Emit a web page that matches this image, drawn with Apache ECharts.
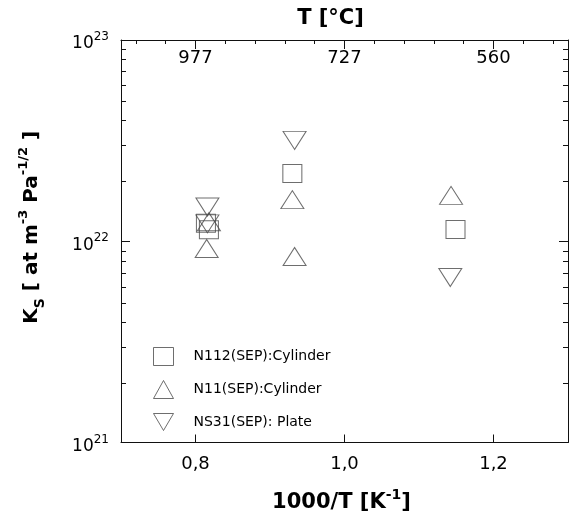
<!DOCTYPE html>
<html>
<head>
<meta charset="utf-8">
<title>Ks vs 1000/T</title>
<script src="https://cdn.jsdelivr.net/npm/echarts@6.0.0/dist/echarts.min.js"></script>
<style>
    html, body { margin: 0; padding: 0; background: #fff; }
    #chart { width: 572px; height: 518px; }
</style>
</head>
<body>
<div id="chart"></div>
<script type="text/javascript">
    // series names (legend order)
    var names = ['N112(SEP):Cylinder', 'N11(SEP):Cylinder', 'NS31(SEP): Plate'];

    // [1000/T (1/K), Ks (at m^-3 Pa^-1/2)]
    var n112 = [[0.814, 1.23e22], [0.818, 1.14e22], [0.930, 2.17e22], [1.149, 1.145e22]];
    var n11 = [[0.818, 1.25e22], [0.815, 9.2e21], [0.930, 1.61e22], [0.933, 8.4e21], [1.143, 1.69e22]];
    var ns31 = [[0.816, 1.48e22], [0.816, 1.22e22], [0.933, 3.17e22], [1.142, 6.6e21]];

    // ticks
    var bottomTicks = [0.8, 1.0, 1.2];
    var topTicks = [0.8, 1.0, 1.2];
    var topLabels = ['977', '727', '560'];
    var topMinor = [0.72, 0.76, 0.84, 0.88, 0.92, 0.96, 1.04, 1.08, 1.12, 1.16, 1.24, 1.28];
    var yMinor = [2e21, 3e21, 4e21, 5e21, 6e21, 7e21, 8e21, 9e21,
                  2e22, 3e22, 4e22, 5e22, 6e22, 7e22, 8e22, 9e22];

    var FONT = 'DejaVu Sans';
    var INK = '#111';
    var MARK = '#4a4a4a';

    var chart = echarts.init(document.getElementById('chart'));

    var hollow = { color: 'transparent', borderColor: MARK, borderWidth: 1 };
    var lineStyle = { color: INK, width: 1 };

    var option = {
        animation: false,
        backgroundColor: '#fff',
        grid: [
            { left: 121, right: 4, top: 40, bottom: 74 },
            { left: 121, right: 4, top: 40, bottom: 74 }
        ],
        legend: {
            orient: 'vertical',
            left: 148,
            top: 342,
            itemWidth: 20,
            itemHeight: 18,
            itemGap: 14,
            textStyle: { fontFamily: FONT, fontSize: 14, color: '#000', padding: [0, 0, 0, 15] },
            data: [
                { name: names[0], icon: 'rect', itemStyle: hollow },
                { name: names[1], icon: 'triangle', itemStyle: hollow },
                { name: names[2], icon: 'path://M0,0L20,0L10,17Z', itemStyle: hollow }
            ]
        },
        xAxis: [
            {
                type: 'value', gridIndex: 0, position: 'bottom',
                min: 0.7, max: 1.3,
                axisLine: { onZero: false, lineStyle: lineStyle },
                axisTick: { inside: true, length: 8, customValues: bottomTicks, lineStyle: lineStyle },
                axisLabel: {
                    customValues: bottomTicks, margin: 13,
                    fontFamily: FONT, fontSize: 18, color: '#000',
                    formatter: function (v) { return v.toFixed(1).replace('.', ','); }
                },
                splitLine: { show: false },
                name: '{a|1000/T [K}{s|-1}{a|]}',
                nameLocation: 'middle',
                nameGap: 46,
                nameTextStyle: {
                    padding: [0, 6, 0, 0],
                    rich: {
                        a: { fontFamily: FONT, fontSize: 21, fontWeight: 'bold', color: '#000', lineHeight: 28 },
                        s: { fontFamily: FONT, fontSize: 14, fontWeight: 'bold', color: '#000', lineHeight: 14, verticalAlign: 'top' }
                    }
                }
            },
            {
                type: 'value', gridIndex: 0, position: 'top',
                min: 0.7, max: 1.3,
                axisLine: { onZero: false, lineStyle: lineStyle },
                axisTick: { inside: true, length: 9, customValues: topTicks, lineStyle: lineStyle },
                axisLabel: {
                    inside: true, customValues: topTicks, margin: 9,
                    fontFamily: FONT, fontSize: 18, color: '#000',
                    formatter: function (v) {
                        for (var i = 0; i < topTicks.length; i++) {
                            if (Math.abs(topTicks[i] - v) < 1e-6) return topLabels[i];
                        }
                        return '';
                    }
                },
                splitLine: { show: false },
                name: 'T [°C]',
                nameLocation: 'middle',
                nameGap: 11,
                nameTextStyle: { fontFamily: FONT, fontSize: 21, fontWeight: 'bold', color: '#000', padding: [0, 28, 0, 0] }
            },
            {
                // minor ticks along the top edge
                type: 'value', gridIndex: 1, position: 'top',
                min: 0.7, max: 1.3,
                axisLine: { show: false },
                axisTick: { inside: true, length: 4, customValues: topMinor, lineStyle: lineStyle },
                axisLabel: { show: false },
                splitLine: { show: false }
            }
        ],
        yAxis: [
            {
                type: 'log', logBase: 10, gridIndex: 0, position: 'left',
                min: 1e21, max: 1e23,
                axisLine: { onZero: false, lineStyle: lineStyle },
                axisTick: { inside: true, length: 9, lineStyle: lineStyle },
                axisLabel: {
                    margin: 12,
                    padding: [8, 0, 0, 0],
                    formatter: function (v) {
                        return '{b|10}{e|' + Math.round(Math.log10(v)) + '}';
                    },
                    rich: {
                        b: { fontFamily: FONT, fontSize: 17, color: '#000', lineHeight: 26 },
                        e: { fontFamily: FONT, fontSize: 12, color: '#000', lineHeight: 12, verticalAlign: 'top' }
                    }
                },
                splitLine: { show: false },
                minorTick: { show: false },
                name: '{a|K}{sub|S}{a| [ at m}{sup|-3}{a| Pa}{sup|-1/2}{a| ]}',
                nameLocation: 'middle',
                nameRotate: 90,
                nameGap: 74,
                nameTextStyle: {
                    padding: [0, 0, 0, 28],
                    rich: {
                        a: { fontFamily: FONT, fontSize: 20, fontWeight: 'bold', color: '#000', lineHeight: 30 },
                        sub: { fontFamily: FONT, fontSize: 14, fontWeight: 'bold', color: '#000', lineHeight: 22, verticalAlign: 'bottom' },
                        sup: { fontFamily: FONT, fontSize: 13, fontWeight: 'bold', color: '#000', lineHeight: 14, verticalAlign: 'top' }
                    }
                }
            },
            {
                type: 'log', logBase: 10, gridIndex: 0, position: 'right',
                min: 1e21, max: 1e23,
                axisLine: { onZero: false, lineStyle: lineStyle },
                axisTick: { inside: true, length: 9, lineStyle: lineStyle },
                axisLabel: { show: false },
                splitLine: { show: false }
            },
            {
                // minor log ticks, left edge (exponent space, same pixel box)
                type: 'value', gridIndex: 1, position: 'left',
                min: 21, max: 23,
                axisLine: { show: false },
                axisTick: { inside: true, length: 5, customValues: yMinor.map(Math.log10), lineStyle: lineStyle },
                axisLabel: { show: false },
                splitLine: { show: false }
            },
            {
                type: 'value', gridIndex: 1, position: 'right',
                min: 21, max: 23,
                axisLine: { show: false },
                axisTick: { inside: true, length: 5, customValues: yMinor.map(Math.log10), lineStyle: lineStyle },
                axisLabel: { show: false },
                splitLine: { show: false }
            }
        ],
        series: [
            {
                name: names[0], type: 'scatter', xAxisIndex: 0, yAxisIndex: 0,
                symbol: 'rect', symbolSize: [19, 18],
                itemStyle: hollow, data: n112
            },
            {
                name: names[1], type: 'scatter', xAxisIndex: 0, yAxisIndex: 0,
                symbol: 'triangle', symbolSize: [23, 18],
                itemStyle: hollow, data: n11
            },
            {
                name: names[2], type: 'scatter', xAxisIndex: 0, yAxisIndex: 0,
                symbol: 'triangle', symbolRotate: 180, symbolSize: [23, 18],
                itemStyle: hollow, data: ns31
            },
            {
                // keeps the tick-only grid alive; no marks
                type: 'scatter', xAxisIndex: 2, yAxisIndex: 2, data: [], silent: true
            }
        ]
    };

    chart.setOption(option);
</script>
</body>
</html>
